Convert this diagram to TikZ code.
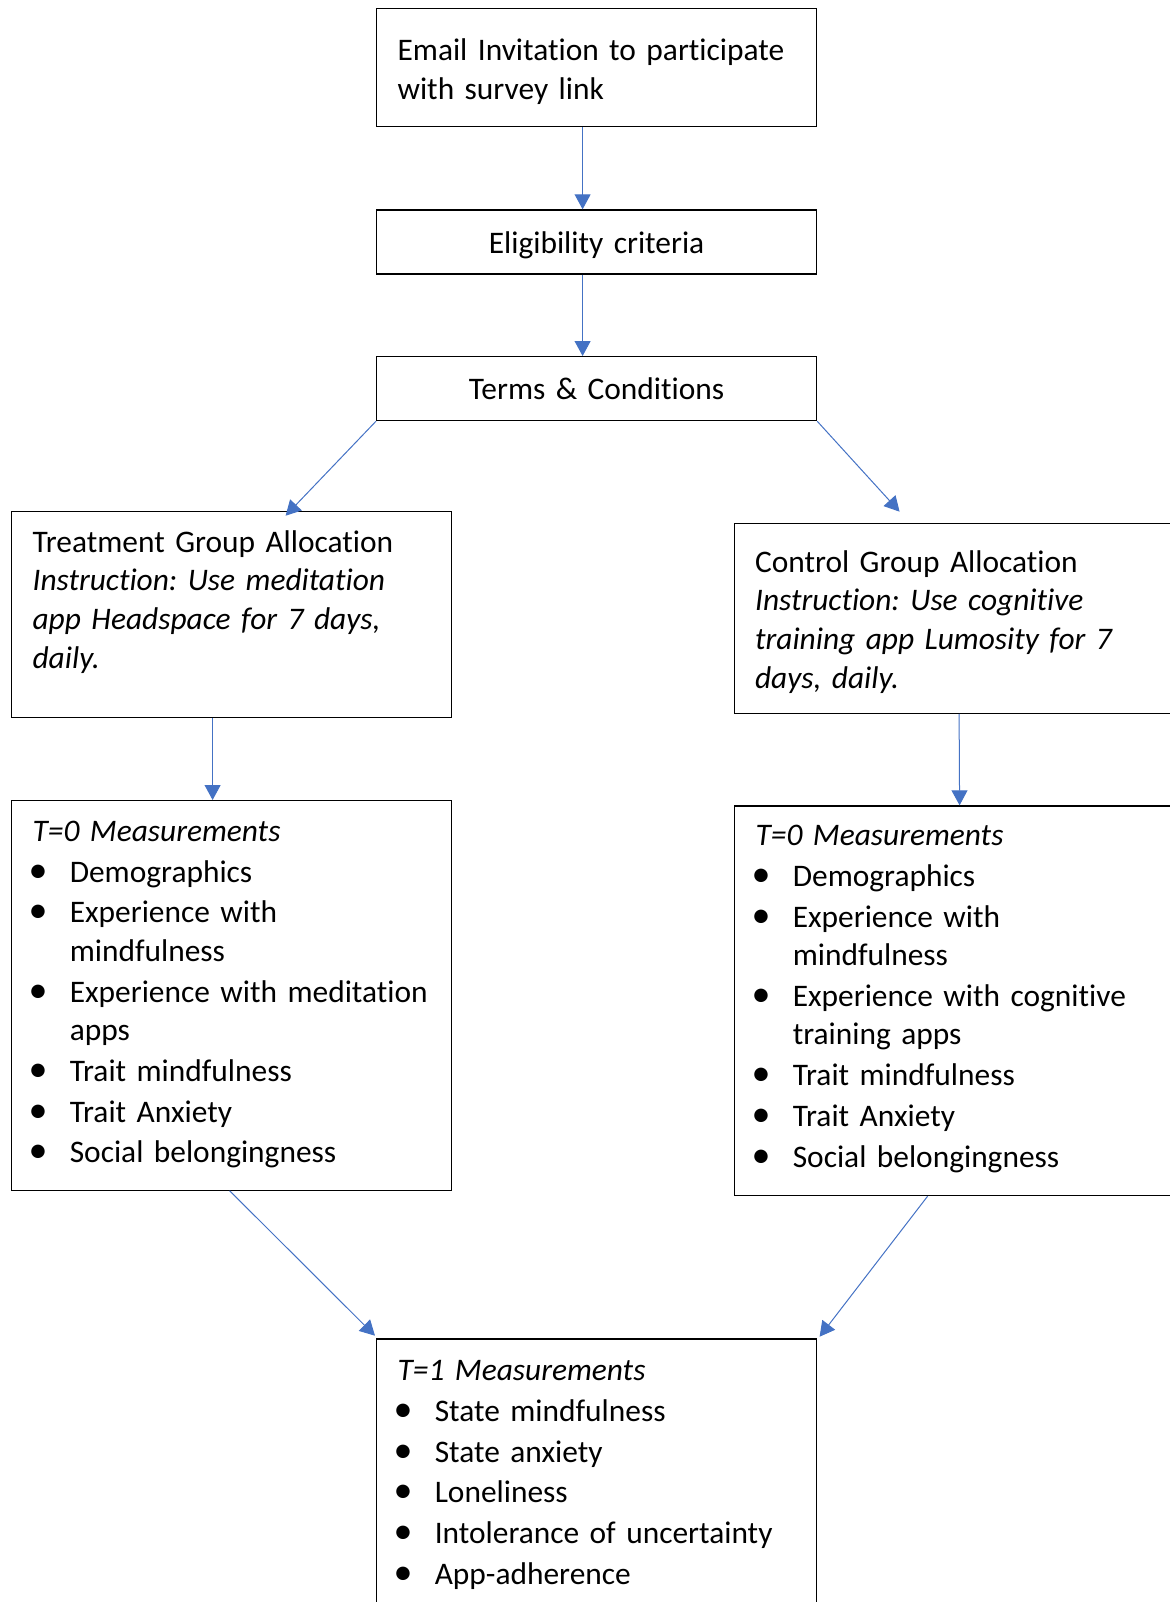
\documentclass[tikz,border=0pt]{standalone}
\usepackage{fontspec}
\setmainfont{Carlito}[Ligatures=NoCommon]
\usetikzlibrary{arrows.meta}
\definecolor{arrowblue}{RGB}{68,114,196}
\frenchspacing
\hyphenpenalty=10000
\newcommand{\bitem}{\par\vspace{1.05pt}\hangindent=18.6pt\hangafter=1\noindent\makebox[18.6pt][l]{\hspace{-2pt}{\fontsize{19}{19}\selectfont\textbullet}}}
\tikzset{
  box/.style={draw=black, line width=0.6pt, anchor=north west, inner xsep=10.5pt, inner ysep=0pt, text width=199pt, align=#1, font=\fontsize{15.7}{19.3}\selectfont},
  box/.default={left},
  arrow/.style={-{Triangle[length=7.5pt,width=8pt]}, draw=arrowblue, line width=0.5pt}
}

\begin{document}
\begin{tikzpicture}[x=0.5pt, y=-0.5pt]
  \useasboundingbox (0,0) rectangle (1169,1602);
  \node[box, text height=26.25pt, text depth=32.85pt] (email) at (376,7.5) {Email Invitation to participate\\with survey link};
  \node[box=center, text height=22pt, text depth=10pt] (elig) at (376,209.3) {Eligibility criteria};
  \node[box=center, text height=21.65pt, text depth=10.35pt] (terms) at (376,356) {Terms \& Conditions};
  \node[box, text height=20.5pt, text depth=82.5pt] (treat) at (11,510.7) {Treatment Group Allocation\\ \itshape Instruction: Use meditation\\ app Headspace for 7 days,\\ daily.};
  \node[box, text height=24.5pt, text depth=70.5pt] (ctrl) at (733.5,522.7) {Control Group Allocation\\ \itshape Instruction: Use cognitive\\ training app Lumosity for 7\\ days, daily.};
  \node[box, text height=20.35pt, text depth=174.4pt] (t0a) at (11,800) {\textit{T=0 Measurements}
    \bitem Demographics
    \bitem Experience with\newline mindfulness
    \bitem Experience with meditation\newline apps
    \bitem Trait mindfulness
    \bitem Trait Anxiety
    \bitem Social belongingness};
  \node[box, text height=19.85pt, text depth=175pt] (t0b) at (734,805.3) {\textit{T=0 Measurements}
    \bitem Demographics
    \bitem Experience with\newline mindfulness
    \bitem Experience with cognitive\newline training apps
    \bitem Trait mindfulness
    \bitem Trait Anxiety
    \bitem Social belongingness};
  \node[box, text height=20.85pt, text depth=130pt] (t1) at (376,1338.3) {\textit{T=1 Measurements}
    \bitem State mindfulness
    \bitem State anxiety
    \bitem Loneliness
    \bitem Intolerance of uncertainty
    \bitem App-adherence};
  % connectors
  \draw[arrow] ([xshift=-7pt]email.south) -- ([xshift=-7pt]elig.north);
  \draw[arrow] ([xshift=-7pt]elig.south) -- ([xshift=-7pt]terms.north);
  \draw[arrow] (terms.south west) -- ([shift={(27pt,-2.5pt)}]treat.north);
  \draw[arrow] (terms.south east) -- ([shift={(-27.25pt,5.5pt)}]ctrl.north);
  \draw[arrow] ([xshift=-9.5pt]treat.south) -- ([xshift=-9.5pt]t0a.north);
  \draw[arrow] ([xshift=2.5pt]ctrl.south) -- ([xshift=2.5pt]t0b.north);
  \draw[arrow] ([xshift=-1pt]t0a.south) -- ([shift={(-0.5pt,1.3pt)}]t1.north west);
  \draw[arrow] ([xshift=-13.5pt]t0b.south) -- ([shift={(1.2pt,0.8pt)}]t1.north east);
\end{tikzpicture}
\end{document}
